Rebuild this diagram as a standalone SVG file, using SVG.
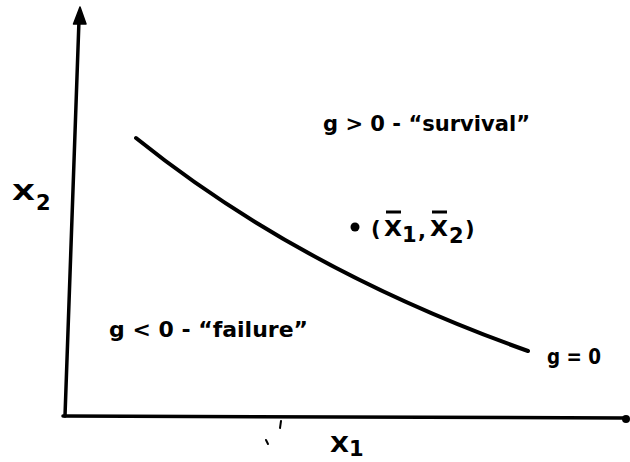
<svg xmlns="http://www.w3.org/2000/svg" width="630" height="462" viewBox="0 0 630 462">
<style>
.t{font-family:"DejaVu Sans","Liberation Sans",sans-serif;fill:#000;font-size:21px;font-weight:bold}
.ax{stroke:#000;stroke-width:3.5;fill:none;stroke-linecap:round}
.cv{stroke:#000;stroke-width:4;fill:none;stroke-linecap:round}
.bar{stroke:#000;stroke-width:3}
</style>
<g id="connectors">
<path class="ax" d="M65,416 L79,20"/>
<path d="M80,7 L73.5,24 L86,24 Z" fill="#000" stroke="#000" stroke-width="1.5" stroke-linejoin="round"/>
<path class="ax" d="M63,416 L624,418" />
<circle cx="626" cy="419" r="4" fill="#000"/>
<path class="cv" d="M136,138 Q300,270 528,351"/>
<path d="M281,421 L280,428" stroke="#000" stroke-width="2" stroke-linecap="round"/>
<path d="M266,440 L268,444" stroke="#000" stroke-width="2" stroke-linecap="round"/>
</g>
<g id="x2label"><text class="t" x="12" y="200" font-size="22" textLength="23" lengthAdjust="spacingAndGlyphs">X</text><text class="t" x="36" y="210" font-size="17">2</text></g>
<g id="x1label"><text class="t" x="330" y="452" font-size="22" textLength="19" lengthAdjust="spacingAndGlyphs">X</text><text class="t" x="349" y="456" font-size="17">1</text></g>
<g id="survival"><text class="t" x="323" y="131" textLength="207" lengthAdjust="spacingAndGlyphs">g &gt; 0 - “survival”</text></g>
<g id="failure"><text class="t" x="109" y="337" textLength="199" lengthAdjust="spacingAndGlyphs">g &lt; 0 - “failure”</text></g>
<g id="g0"><text class="t" x="547" y="364" font-size="25" textLength="54" lengthAdjust="spacingAndGlyphs">g = 0</text></g>
<g id="mean">
<circle cx="355" cy="227" r="4.5" fill="#000"/>
<text class="t" x="371" y="236" font-weight="normal">(</text>
<text class="t" x="384" y="236" font-size="22" textLength="18" lengthAdjust="spacingAndGlyphs">X</text>
<text class="t" x="402" y="242" font-size="17">1</text>
<text class="t" x="418" y="238">,</text>
<text class="t" x="430" y="236" font-size="22" textLength="18" lengthAdjust="spacingAndGlyphs">X</text>
<text class="t" x="449" y="243" font-size="17">2</text>
<text class="t" x="465" y="236" font-weight="normal">)</text>
<line class="bar" x1="386" y1="212" x2="401" y2="212"/>
<line class="bar" x1="432" y1="212" x2="447" y2="212"/>
</g>
</svg>
